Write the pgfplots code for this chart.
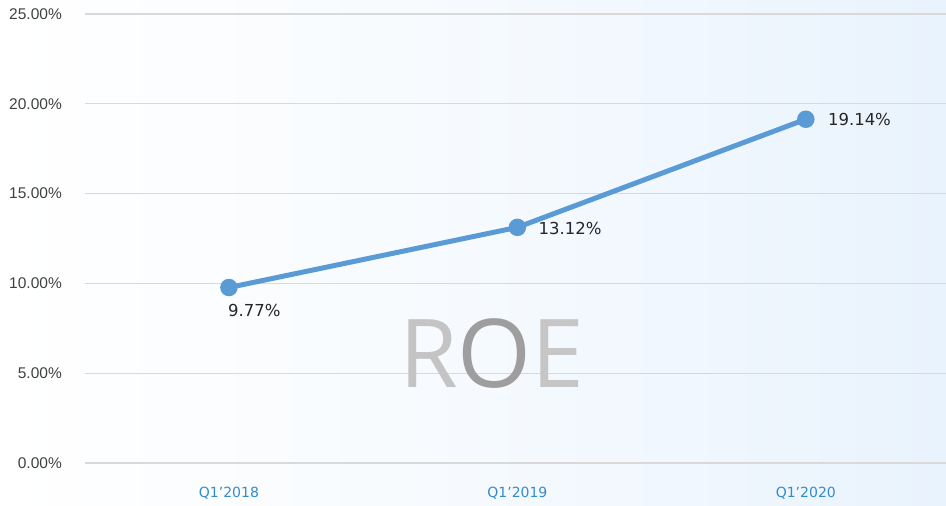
\documentclass[border=0pt]{standalone}
\usepackage{pgfplots}
\pgfplotsset{compat=1.18}
\usepackage{fontspec}
\setmainfont{Liberation Sans}
\newfontfamily\labfont{DejaVu Sans}
\newfontfamily\roefont{Open Sans}
\definecolor{lineblue}{RGB}{91,155,213}
\definecolor{xlab}{RGB}{52,140,205}
\definecolor{ylab}{RGB}{64,64,64}
\definecolor{gridc}{RGB}{217,217,217}
\definecolor{bgright}{RGB}{233,243,253}
\begin{document}
\begin{tikzpicture}[x=1pt,y=1pt]
\useasboundingbox (0,0) rectangle (946,506);
\shade[left color=white, right color=bgright, middle color={rgb,255:red,246;green,250;blue,254}] (0,0) rectangle (946,506);
\begin{axis}[
  at={(85pt,43pt)}, anchor=south west,
  scale only axis, width=861pt, height=449pt,
  xmin=-0.499, xmax=2.486, ymin=0, ymax=25,
  axis line style={draw=none},
  major tick length=0pt,
  xtick={0,1,2}, xticklabels={Q1’2018,Q1’2019,Q1’2020},
  ytick={0,5,10,15,20,25},
  yticklabels={0.00\%,5.00\%,10.00\%,15.00\%,20.00\%,25.00\%},
  ymajorgrids, major grid style={gridc, line width=1.2pt},
  yticklabel style={font=\fontsize{15.5}{15.5}\selectfont, text=ylab, inner sep=0pt, anchor=east, xshift=-23pt},
  xticklabel style={font=\labfont\fontsize{14}{14}\selectfont, text=xlab, inner sep=0pt, anchor=center, yshift=-30pt},
  clip=false,
]
\node[font=\roefont\fontsize{95}{95}\selectfont, inner sep=0pt] at (axis cs:0.912,6.07)
  {\textcolor[RGB]{196,196,196}{R}\textcolor[RGB]{158,158,158}{O}\textcolor[RGB]{198,198,198}{E}};
\addplot[lineblue, line width=5pt, mark=*, mark size=6.2pt, mark options={fill=lineblue, draw=none}]
  coordinates {(0,9.77) (1,13.12) (2,19.14)};
\node[font=\labfont\fontsize{16.5}{16.5}\selectfont, text={rgb,255:red,38;green,38;blue,38}, anchor=west, inner sep=0pt] at ([xshift=-1pt,yshift=-23pt]axis cs:0,9.77) {9.77\%};
\node[font=\labfont\fontsize{16.5}{16.5}\selectfont, text={rgb,255:red,38;green,38;blue,38}, anchor=west, inner sep=0pt] at ([xshift=21pt,yshift=-1pt]axis cs:1,13.12) {13.12\%};
\node[font=\labfont\fontsize{16.5}{16.5}\selectfont, text={rgb,255:red,38;green,38;blue,38}, anchor=west, inner sep=0pt] at ([xshift=22pt]axis cs:2,19.14) {19.14\%};
\end{axis}
\end{tikzpicture}
\end{document}
